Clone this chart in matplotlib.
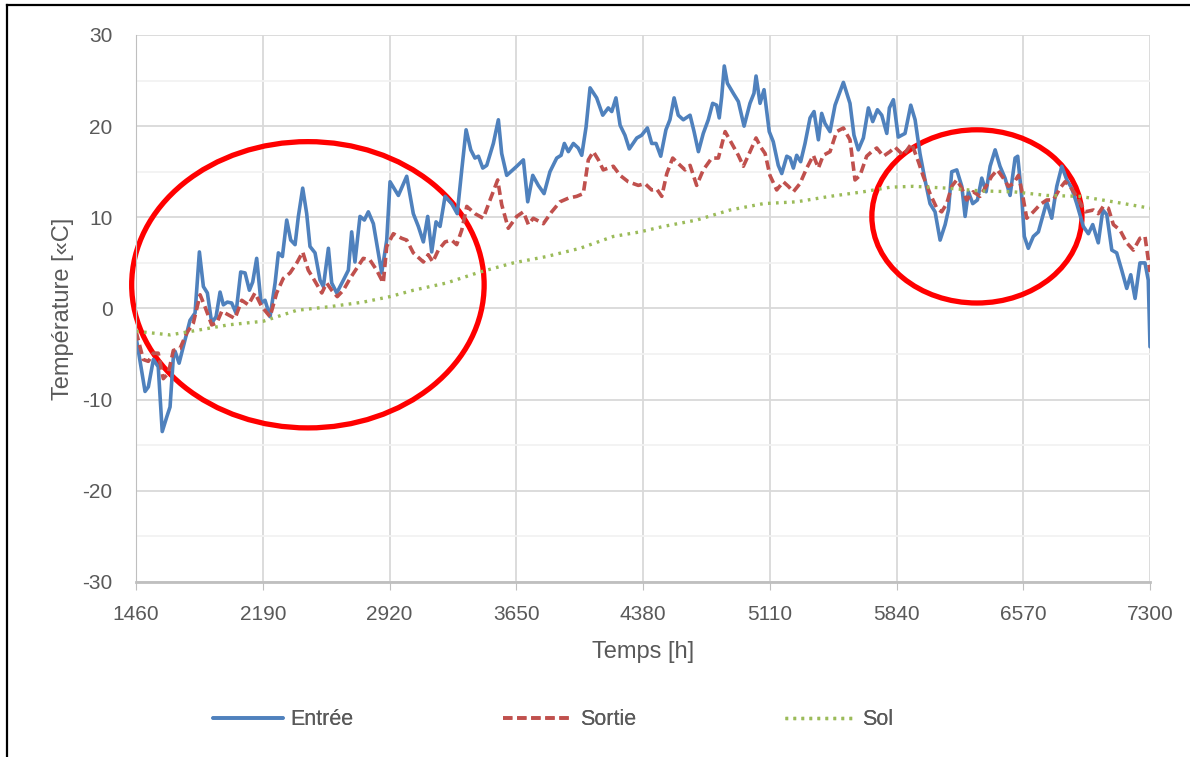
import matplotlib.pyplot as plt
import numpy as np
from matplotlib.patches import Ellipse
from matplotlib.lines import Line2D

# Entrée (blue)
entree_h = [1460, 1512, 1531, 1560, 1588, 1611, 1637, 1656, 1675, 1685, 1708, 1732, 1771, 1800,
            1825, 1848, 1871, 1896, 1921, 1944, 1963, 1986, 2011, 2036, 2063, 2088, 2113, 2132,
            2155, 2180, 2203, 2232, 2261, 2280, 2303, 2328, 2351, 2376, 2395, 2420, 2443, 2462,
            2491, 2520, 2539, 2568, 2587, 2616, 2654, 2683, 2702, 2721, 2750, 2775, 2798, 2827,
            2875, 2904, 2923, 2971, 3019, 3057, 3086, 3115, 3140, 3163, 3188, 3211, 3240, 3278,
            3310, 3336, 3361, 3388, 3412, 3432, 3457, 3480, 3518, 3547, 3566, 3595, 3653, 3691,
            3716, 3745, 3777, 3810, 3844, 3883, 3908, 3927, 3950, 3979, 4007, 4027, 4052, 4075,
            4113, 4148, 4180, 4200, 4224, 4248, 4276, 4301, 4344, 4372, 4405, 4430, 4455, 4482,
            4512, 4535, 4559, 4583, 4612, 4651, 4674, 4699, 4727, 4756, 4781, 4804, 4819, 4833,
            4848, 4866, 4900, 4929, 4962, 4996, 5019, 5031, 5054, 5077, 5107, 5130, 5159, 5179,
            5208, 5227, 5246, 5265, 5288, 5313, 5342, 5365, 5390, 5409, 5428, 5457, 5486, 5534,
            5572, 5595, 5620, 5649, 5678, 5703, 5730, 5755, 5784, 5799, 5822, 5850, 5889, 5922,
            5947, 5975, 6004, 6033, 6062, 6091, 6120, 6139, 6158, 6187, 6216, 6235, 6254, 6279,
            6306, 6331, 6356, 6379, 6408, 6436, 6465, 6494, 6523, 6538, 6561, 6576, 6599, 6628,
            6657, 6686, 6705, 6734, 6763, 6792, 6821, 6849, 6878, 6916, 6945, 6970, 7002, 7028,
            7051, 7080, 7108, 7137, 7166, 7189, 7214, 7242, 7271, 7290, 7300]
entree_t = [-3.1, -9.1, -8.6, -5.6, -6.4, -13.5, -11.9, -10.8, -5.3, -4.7, -6.0, -4.2, -1.3, -0.5,
            6.2, 2.4, 1.7, -1.6, -0.9, 1.8, 0.4, 0.7, 0.6, -0.5, 4.0, 3.9, 2.0, 2.9,
            5.5, 0.6, 0.9, -0.9, 2.8, 6.1, 5.7, 9.7, 7.5, 7.0, 10.1, 13.2, 10.4, 6.8,
            6.1, 3.1, 2.4, 6.6, 2.8, 1.7, 3.1, 4.2, 8.4, 5.1, 10.1, 9.7, 10.6, 9.3,
            3.9, 7.5, 13.9, 12.4, 14.5, 10.4, 9.0, 7.3, 10.1, 6.2, 9.5, 9.0, 12.3, 11.5,
            10.4, 15.2, 19.6, 17.4, 16.5, 16.7, 15.4, 15.7, 18.1, 20.7, 17.0, 14.6, 15.6, 16.3,
            11.7, 14.6, 13.5, 12.6, 15.0, 16.5, 16.8, 18.1, 17.2, 18.1, 17.6, 16.8, 19.9, 24.2,
            23.1, 21.2, 22.0, 21.6, 23.1, 20.1, 19.0, 17.5, 18.7, 19.0, 19.8, 18.1, 18.1, 16.7,
            19.6, 20.7, 23.1, 21.2, 20.7, 21.2, 19.4, 17.2, 19.2, 20.7, 22.5, 22.3, 20.9, 23.2,
            26.6, 24.7, 23.6, 22.7, 20.0, 22.5, 23.6, 25.5, 22.5, 24.0, 19.4, 18.3, 15.7, 14.8,
            16.7, 16.5, 15.4, 16.8, 16.1, 18.1, 20.9, 21.6, 18.5, 21.4, 20.3, 19.4, 22.3, 24.8,
            22.5, 19.0, 17.4, 18.7, 22.0, 20.5, 21.8, 21.2, 19.2, 22.0, 22.9, 18.8, 19.2, 22.3,
            20.7, 17.0, 14.1, 11.5, 10.6, 7.5, 9.2, 10.8, 15.0, 15.2, 13.4, 10.1, 12.8, 11.5,
            11.9, 14.3, 12.8, 15.6, 17.4, 15.6, 14.3, 12.4, 16.5, 16.7, 12.3, 7.9, 6.6, 7.9,
            8.4, 10.4, 11.7, 9.9, 13.4, 15.6, 14.1, 13.2, 11.5, 9.0, 8.2, 9.2, 7.2, 10.8,
            10.3, 6.4, 6.1, 4.2, 2.2, 3.7, 1.1, 5.0, 5.0, 3.1, -4.2]

# Sortie (red dashed)
sortie_h = [1460, 1502, 1531, 1560, 1588, 1617, 1646, 1675, 1713, 1752, 1790, 1829, 1857, 1896,
            1925, 1954, 1992, 2030, 2069, 2107, 2145, 2184, 2232, 2270, 2308, 2347, 2386, 2420,
            2452, 2481, 2530, 2558, 2587, 2619, 2654, 2693, 2731, 2769, 2808, 2846, 2884, 2904,
            2942, 2990, 3019, 3057, 3115, 3143, 3169, 3201, 3240, 3278, 3307, 3336, 3365, 3412,
            3460, 3499, 3543, 3566, 3604, 3653, 3691, 3720, 3748, 3806, 3854, 3902, 3950, 3998,
            4036, 4065, 4094, 4123, 4151, 4209, 4248, 4295, 4353, 4391, 4430, 4459, 4488, 4517,
            4551, 4583, 4622, 4651, 4689, 4727, 4776, 4814, 4853, 4891, 4929, 4958, 4987, 5031,
            5058, 5083, 5111, 5150, 5188, 5217, 5246, 5284, 5323, 5361, 5390, 5418, 5457, 5495,
            5534, 5572, 5601, 5630, 5668, 5697, 5726, 5764, 5802, 5831, 5879, 5927, 5966, 5994,
            6033, 6072, 6100, 6129, 6158, 6187, 6216, 6244, 6282, 6321, 6359, 6388, 6421, 6455,
            6484, 6513, 6542, 6561, 6590, 6628, 6667, 6705, 6743, 6782, 6811, 6839, 6878, 6926,
            6974, 7002, 7031, 7060, 7089, 7127, 7166, 7204, 7242, 7271, 7300]
sortie_t = [-2.5, -5.6, -5.8, -4.9, -4.9, -7.7, -7.1, -4.6, -4.4, -2.7, -1.6, 1.5, 0.2, -1.8,
            -1.6, -0.3, -0.7, -1.1, 0.9, 0.4, 1.7, 0.2, -0.9, 1.7, 3.3, 3.9, 5.0, 6.2,
            4.2, 3.3, 1.7, 2.8, 2.0, 1.3, 2.0, 3.3, 4.4, 5.5, 5.3, 4.2, 2.8, 6.8,
            8.2, 7.7, 7.5, 6.1, 5.1, 5.9, 5.1, 6.4, 7.3, 7.5, 7.0, 8.6, 11.2, 10.4,
            9.9, 11.9, 14.1, 11.4, 8.8, 10.1, 10.6, 9.2, 9.9, 9.3, 10.6, 11.7, 12.1, 12.3,
            12.6, 16.3, 17.2, 16.3, 15.2, 15.6, 14.6, 13.9, 13.5, 13.7, 13.0, 13.1, 12.3, 14.8,
            16.5, 15.9, 15.2, 15.7, 13.5, 15.2, 16.5, 16.5, 19.4, 18.1, 16.8, 15.6, 16.8, 18.7,
            17.7, 17.0, 14.6, 13.0, 13.9, 13.4, 12.8, 13.7, 15.4, 16.8, 15.4, 16.8, 17.2, 19.4,
            19.8, 18.5, 14.1, 14.6, 16.7, 17.2, 17.6, 16.7, 17.2, 17.7, 16.8, 18.1, 16.1, 14.5,
            12.6, 11.0, 10.6, 11.5, 13.4, 14.1, 13.2, 11.9, 12.8, 12.3, 13.5, 14.5, 15.2, 14.3,
            13.4, 13.7, 14.6, 13.0, 9.9, 10.6, 11.4, 11.9, 11.9, 13.2, 13.9, 13.4, 12.3, 10.6,
            10.8, 10.4, 11.2, 11.0, 9.2, 8.6, 7.2, 6.4, 7.7, 7.9, 4.0]

# Sol (green dotted)
sol_h = [1460, 1656, 1810, 1991, 2193, 2386, 2577, 2769, 2923, 3057, 3249, 3441, 3633, 3825,
         4017, 4209, 4363, 4497, 4689, 4881, 5073, 5265, 5457, 5649, 5803, 5937, 6129, 6321,
         6513, 6705, 6897, 7089, 7300]
sol_t = [-2.5, -2.9, -2.4, -1.8, -1.4, -0.2, 0.2, 0.7, 1.3, 2.0, 2.8, 4.0, 5.0, 5.7,
         6.6, 7.9, 8.4, 9.0, 9.7, 10.8, 11.5, 11.7, 12.3, 12.8, 13.3, 13.4, 13.2, 12.9,
         12.8, 12.4, 12.3, 11.7, 11.0]

x_ticks = [1460, 2190, 2920, 3650, 4380, 5110, 5840, 6570, 7300]

plt.rcParams['font.family'] = ['Liberation Sans', 'DejaVu Sans']
plt.rcParams['axes.unicode_minus'] = False
grey = '#595959'

fig = plt.figure(figsize=(11.9, 7.57), dpi=100)
ax = fig.add_axes([0.1143, 0.2312, 0.8521, 0.7226])

l1, = ax.plot(entree_h, entree_t, color='#4F81BD', lw=2.6, label='Entrée',
              solid_joinstyle='round', solid_capstyle='round')
l2, = ax.plot(sortie_h, sortie_t, color='#C0504D', lw=2.6, ls=(0, (2.6, 1.3)), label='Sortie')
l3, = ax.plot(sol_h, sol_t, color='#9BBB59', lw=2.4, ls=(0, (0.8, 1.6)), label='Sol')

ax.set_xlim(1460, 7300)
ax.set_ylim(-30, 30)
ax.set_xticks(x_ticks)
ax.set_yticks(np.arange(-30, 31, 10))
ax.set_yticks(np.arange(-25, 30, 10), minor=True)
ax.grid(True, which='major', color='#D9D9D9', lw=1.3)
ax.grid(True, which='minor', axis='y', color='#F2F2F2', lw=1.3)
ax.set_axisbelow(True)
for s in ['top', 'right']:
    ax.spines[s].set_visible(False)
ax.spines['left'].set_color('#BFBFBF')
ax.spines['bottom'].set_color('#BFBFBF')
ax.spines['bottom'].set_linewidth(2)
ax.tick_params(axis='y', which='both', length=0, labelsize=15, labelcolor=grey, pad=17)
ax.tick_params(axis='x', length=5.5, color='#BFBFBF', labelsize=15, labelcolor=grey, pad=11)
ax.tick_params(axis='x', which='minor', length=0)

ax.set_xlabel('Temps [h]', fontsize=17, color=grey, labelpad=12)
ax.set_ylabel('Température [«C]', fontsize=17, color=grey, labelpad=6)

# red circles
ax.add_patch(Ellipse((2450, 2.6), 2030, 31.4, fill=False, ec='#FF0000', lw=3.8, clip_on=False))
ax.add_patch(Ellipse((6303, 10.1), 1210, 19.0, fill=False, ec='#FF0000', lw=3.8, clip_on=False))

# legend, one entry each so the spacing follows the picture
for handle, xpos in [(l1, 0.179), (l2, 0.4227), (l3, 0.6597)]:
    fig.add_artist(fig.legend(handles=[handle], loc='center left', bbox_to_anchor=(xpos, 0.049),
                              frameon=False, fontsize=15.5, handlelength=3.25, handletextpad=0.33,
                              borderpad=0, borderaxespad=0, labelcolor=grey))

# frame edges of the screenshot
fig.add_artist(Line2D([0.0063, 0.0063], [0, 0.993], color='black', lw=1.6, transform=fig.transFigure))
fig.add_artist(Line2D([0.0063, 1], [0.993, 0.993], color='black', lw=1.6, transform=fig.transFigure))

fig.savefig('out.png', dpi=100)
